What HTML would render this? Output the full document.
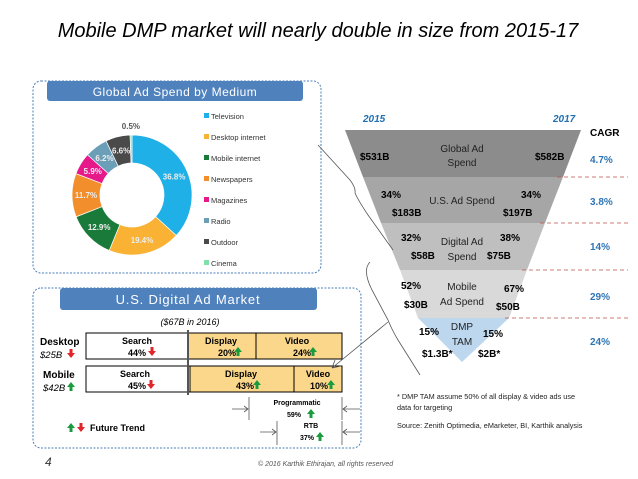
<!DOCTYPE html>
<html><head><meta charset="utf-8"><style>
body{margin:0;background:#fff;}
svg{display:block;font-family:"Liberation Sans",sans-serif;}
</style></head><body>
<svg width="638" height="479" viewBox="0 0 638 479" xmlns="http://www.w3.org/2000/svg">
<text x="318" y="37" text-anchor="middle" font-size="20" font-style="italic" fill="#000">Mobile DMP market will nearly double in size from 2015-17</text>

<rect x="33" y="81" width="288" height="192" rx="8" fill="none" stroke="#4a7ebb" stroke-dasharray="2,1.5"/>
<rect x="47" y="81" width="256" height="20" rx="3" fill="#4f81bd"/>
<text x="175" y="96" text-anchor="middle" font-size="12" fill="#fff" letter-spacing="0.5">Global Ad Spend by Medium</text>
<g id="donut"></g>
<g id="legend"></g>

<rect x="33" y="288" width="328" height="160" rx="8" fill="none" stroke="#4a7ebb" stroke-dasharray="2,1.5"/>
<rect x="60" y="288" width="257" height="22" rx="3" fill="#4f81bd"/>
<text x="188" y="304" text-anchor="middle" font-size="13" fill="#fff" letter-spacing="0.8">U.S. Digital Ad Market</text>
<text x="190" y="325" text-anchor="middle" font-size="9" font-style="italic">($67B in 2016)</text>

<text x="40" y="345" font-size="10" font-weight="bold">Desktop</text>
<text x="40" y="358" font-size="9.5" font-style="italic">$25B</text>
<text x="43" y="378" font-size="10" font-weight="bold">Mobile</text>
<text x="43" y="391" font-size="9.5" font-style="italic">$42B</text>

<g>
<rect x="86" y="333" width="102" height="26" fill="#fff" stroke="#000"/>
<rect x="188" y="333" width="154" height="26" fill="#fbd78b" stroke="#000"/>
<line x1="256" y1="333" x2="256" y2="359" stroke="#000"/>
<text x="137" y="344" text-anchor="middle" font-size="9" font-weight="bold">Search</text>
<text x="137" y="356" text-anchor="middle" font-size="9" font-weight="bold">44%</text>
<text x="221" y="344" text-anchor="middle" font-size="9" font-weight="bold">Display</text>
<text x="227" y="356" text-anchor="middle" font-size="9" font-weight="bold">20%</text>
<text x="297" y="344" text-anchor="middle" font-size="9" font-weight="bold">Video</text>
<text x="302" y="356" text-anchor="middle" font-size="9" font-weight="bold">24%</text>
</g>
<g>
<rect x="86" y="366" width="104" height="26" fill="#fff" stroke="#000"/>
<rect x="190" y="366" width="152" height="26" fill="#fbd78b" stroke="#000"/>
<line x1="294" y1="366" x2="294" y2="392" stroke="#000"/>
<text x="135" y="377" text-anchor="middle" font-size="9" font-weight="bold">Search</text>
<text x="137" y="389" text-anchor="middle" font-size="9" font-weight="bold">45%</text>
<text x="241" y="377" text-anchor="middle" font-size="9" font-weight="bold">Display</text>
<text x="245" y="389" text-anchor="middle" font-size="9" font-weight="bold">43%</text>
<text x="318" y="377" text-anchor="middle" font-size="9" font-weight="bold">Video</text>
<text x="319" y="389" text-anchor="middle" font-size="9" font-weight="bold">10%</text>
</g>
<line x1="188" y1="330" x2="188" y2="395" stroke="#555" stroke-width="2"/>
<g id="arrows"></g>
<text x="297" y="405" text-anchor="middle" font-size="7" font-weight="bold">Programmatic</text>
<text x="294" y="417" text-anchor="middle" font-size="7" font-weight="bold">59%</text>
<text x="311" y="428" text-anchor="middle" font-size="7" font-weight="bold">RTB</text>
<text x="307" y="440" text-anchor="middle" font-size="7" font-weight="bold">37%</text>
<g stroke="#555" fill="none" stroke-width="0.8">
<line x1="249" y1="397" x2="249" y2="420"/><line x1="342" y1="397" x2="342" y2="420"/>
<line x1="277" y1="421" x2="277" y2="445"/><line x1="342" y1="421" x2="342" y2="445"/>
<path d="M232 409 H248 M244 406 L248 409 L244 412"/>
<path d="M260 432 H276 M272 429 L276 432 L272 435"/>
<path d="M360 409 H343 M347 406 L343 409 L347 412"/>
<path d="M360 432 H343 M347 429 L343 432 L347 435"/>
</g>
<text x="90" y="431" font-size="9" font-weight="bold">Future Trend</text>
<text x="45" y="466" font-size="12" font-style="italic" fill="#333">4</text>
<text x="258" y="466" font-size="7" font-style="italic" fill="#555">© 2016 Karthik Ethirajan, all rights reserved</text>

<polygon points="345,130 581,130 563,177 363,177" fill="#8c8c8c"/>
<polygon points="363,177 563,177 545,223 381,223" fill="#a6a6a6"/>
<polygon points="381,223 545,223 527,270 400,270" fill="#bfbfbf"/>
<polygon points="400,270 527,270 509,318 418,318" fill="#d9d9d9"/>
<polygon points="418,318 509,318 462,362" fill="#bdd7ee"/>
<g stroke="#c0504d" stroke-dasharray="4,3" stroke-width="0.8">
<line x1="557" y1="177" x2="628" y2="177"/><line x1="540" y1="223" x2="628" y2="223"/>
<line x1="522" y1="270" x2="628" y2="270"/><line x1="505" y1="318" x2="628" y2="318"/>
</g>
<g font-size="10" font-weight="bold" fill="#1f6fb4" font-style="italic">
<text x="363" y="122">2015</text><text x="553" y="122">2017</text></g>
<g font-size="10" font-weight="bold" fill="#000"><text x="590" y="136">CAGR</text></g>
<g font-size="10" font-weight="bold" fill="#2e75b6">
<text x="590" y="163">4.7%</text><text x="590" y="205">3.8%</text><text x="590" y="250">14%</text>
<text x="590" y="300">29%</text><text x="590" y="345">24%</text></g>
<g font-size="10" fill="#222" text-anchor="middle">
<text x="462" y="152">Global Ad</text><text x="462" y="166">Spend</text>
<text x="462" y="204">U.S. Ad Spend</text>
<text x="462" y="245">Digital Ad</text><text x="462" y="260">Spend</text>
<text x="462" y="290">Mobile</text><text x="462" y="305">Ad Spend</text>
<text x="462" y="330">DMP</text><text x="462" y="345">TAM</text></g>
<g font-size="10" font-weight="bold" fill="#000">
<text x="360" y="160">$531B</text><text x="535" y="160">$582B</text>
<text x="381" y="198">34%</text><text x="521" y="198">34%</text>
<text x="392" y="216">$183B</text><text x="503" y="216">$197B</text>
<text x="401" y="241">32%</text><text x="500" y="241">38%</text>
<text x="411" y="259">$58B</text><text x="487" y="259">$75B</text>
<text x="401" y="289">52%</text><text x="504" y="292">67%</text>
<text x="404" y="308">$30B</text><text x="496" y="310">$50B</text>
<text x="419" y="335">15%</text><text x="483" y="337">15%</text>
<text x="422" y="357">$1.3B*</text><text x="478" y="357">$2B*</text></g>
<g stroke="#555" fill="none" stroke-width="0.8">
<path d="M318 145 L350 180 Q356 188 355 193 Q358 200 368 215 L393 250"/>
<path d="M370 262 Q362 270 372 290 L388 320 Q392 330 398 340 L420 375"/>
<path d="M388 322 L332 368 M332 368 l9 -2 M332 368 l3 -8"/>
</g>
<g font-size="7.3" fill="#222">
<text x="397" y="399">* DMP TAM assume 50% of all display &amp; video ads use</text>
<text x="397" y="410">data for targeting</text>
<text x="397" y="428">Source: Zenith Optimedia, eMarketer, BI,  Karthik analysis</text></g>
</svg>
<script>
const categories=["Television","Desktop internet","Mobile internet","Newspapers","Magazines","Radio","Outdoor","Cinema"];
const shares=[36.8,19.4,12.9,11.7,5.9,6.2,6.6,0.5];
const colors=["#1fb0e8","#f9b233","#1a7a3a","#f28e2b","#e6198b","#6b9fb8","#4a4a4a","#7fe0a8"];
const NS="http://www.w3.org/2000/svg";
const cx=132,cy=195,R=60,r=32;
const total=shares.reduce((a,b)=>a+b,0);
const donut=document.getElementById('donut');
function pt(a,rad){return [cx+rad*Math.sin(a),cy-rad*Math.cos(a)];}
let acc=0;
shares.forEach((v,i)=>{
 const a0=acc/total*2*Math.PI;acc+=v;const a1=acc/total*2*Math.PI;
 const lg=(a1-a0)>Math.PI?1:0;
 const [x0,y0]=pt(a0,R),[x1,y1]=pt(a1,R),[x2,y2]=pt(a1,r),[x3,y3]=pt(a0,r);
 const p=document.createElementNS(NS,'path');
 p.setAttribute('d',`M${x0} ${y0} A${R} ${R} 0 ${lg} 1 ${x1} ${y1} L${x2} ${y2} A${r} ${r} 0 ${lg} 0 ${x3} ${y3}Z`);
 p.setAttribute('fill',colors[i]);p.setAttribute('stroke','#fff');p.setAttribute('stroke-width','0.7');
 
 
 donut.appendChild(p);
 const am=(a0+a1)/2;const last=i===shares.length-1;
 const [tx,ty]=last?pt(am,R+9):pt(am,(R+r)/2);
 const t=document.createElementNS(NS,'text');
 t.setAttribute('x',tx);t.setAttribute('y',ty+3);t.setAttribute('text-anchor','middle');
 t.setAttribute('font-size','8');t.setAttribute('font-weight','bold');
 t.setAttribute('fill',last?'#555':'#eee');
 
 
 t.textContent=v.toFixed(1)+'%';donut.appendChild(t);
});
const lg=document.getElementById('legend');
categories.forEach((c,i)=>{
 const y=116+i*21;
 const s=document.createElementNS(NS,'rect');
 s.setAttribute('x',204);s.setAttribute('y',y-3);s.setAttribute('width',5);s.setAttribute('height',5);s.setAttribute('fill',colors[i]);
 
 
 lg.appendChild(s);
 const t=document.createElementNS(NS,'text');
 t.setAttribute('x',211);t.setAttribute('y',y+3);t.setAttribute('font-size','7.5');t.setAttribute('fill','#333');
 
 
 t.textContent=c;lg.appendChild(t);
});
const arrowList=[[71,354,0],[152,352,0],[238,352,1],[313,352,1],[71,387,1],[151,385,0],[257,385,1],[331,385,1],[311,414,1],[320,437,1],[71,428,1],[81,428,0]];
const ag=document.getElementById('arrows');
arrowList.forEach(([x,y,up])=>{
 const p=document.createElementNS(NS,'path');
 p.setAttribute('d',up?`M${x} ${y-5} L${x+4} ${y} L${x+1.5} ${y} L${x+1.5} ${y+4} L${x-1.5} ${y+4} L${x-1.5} ${y} L${x-4} ${y}Z`
   :`M${x} ${y+4} L${x+4} ${y-1} L${x+1.5} ${y-1} L${x+1.5} ${y-5} L${x-1.5} ${y-5} L${x-1.5} ${y-1} L${x-4} ${y-1}Z`);
 p.setAttribute('fill',up?'#1a9c3e':'#e0262b');
 
 
 ag.appendChild(p);
});
</script>
</body></html>
